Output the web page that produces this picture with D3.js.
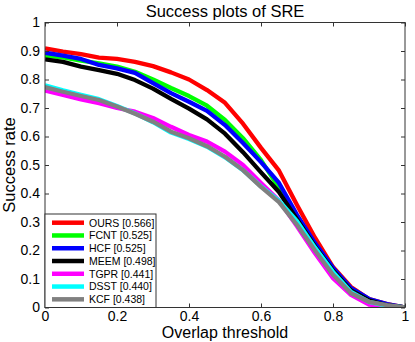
<!DOCTYPE html>
<html><head><meta charset="utf-8">
<script src="https://cdn.jsdelivr.net/npm/d3@7"></script>
<style>body{margin:0;background:#fff}svg{display:block}text{font-family:"Liberation Sans",Arial,sans-serif}</style>
</head><body><svg id="c" width="415" height="342"></svg>
<script>
const thresholds = [0,0.05,0.1,0.15,0.2,0.25,0.3,0.35,0.4,0.45,0.5,0.55,0.6,0.65,0.7,0.75,0.8,0.85,0.9,0.95,1];
const seriesNames = ["OURS [0.566]","FCNT [0.525]","HCF [0.525]","MEEM [0.498]","TGPR [0.441]","DSST [0.440]","KCF [0.438]"];
const seriesColors = ["#ff0000","#00ff00","#0000ff","#000000","#ff00ff","#00ffff","#808080"];
const ours = [0.909,0.898,0.889,0.877,0.872,0.862,0.847,0.825,0.800,0.763,0.718,0.645,0.560,0.480,0.360,0.245,0.142,0.072,0.030,0.012,0];
const fcnt = [0.884,0.878,0.866,0.857,0.845,0.827,0.800,0.770,0.742,0.708,0.658,0.594,0.517,0.420,0.314,0.215,0.130,0.062,0.025,0.008,0];
const hcf  = [0.894,0.884,0.872,0.851,0.839,0.823,0.787,0.752,0.722,0.690,0.640,0.577,0.510,0.437,0.325,0.226,0.139,0.068,0.030,0.012,0];
const meem = [0.871,0.862,0.845,0.833,0.820,0.798,0.768,0.732,0.698,0.660,0.610,0.545,0.474,0.405,0.310,0.215,0.130,0.060,0.025,0.008,0];
const tgpr = [0.761,0.746,0.730,0.717,0.700,0.687,0.665,0.634,0.605,0.582,0.547,0.500,0.437,0.375,0.285,0.190,0.103,0.044,0.010,0.003,0];
const dsst = [0.780,0.762,0.746,0.731,0.707,0.681,0.650,0.614,0.591,0.564,0.527,0.482,0.425,0.375,0.303,0.210,0.125,0.055,0.020,0.006,0];
const kcf  = [0.773,0.757,0.742,0.728,0.705,0.680,0.652,0.617,0.594,0.566,0.529,0.482,0.423,0.370,0.290,0.200,0.115,0.050,0.020,0.008,0];
const xTicks = [0,0.2,0.4,0.6,0.8,1];
const yTicks = [0,0.1,0.2,0.3,0.4,0.5,0.6,0.7,0.8,0.9,1];
const title = "Success plots of SRE", xLabel = "Overlap threshold", yLabel = "Success rate";

const allSeries = [ours,fcnt,hcf,meem,tgpr,dsst,kcf];
const svg = d3.select("#c");
const L=45, R=405, T=22.5, B=307.5;
const x = d3.scaleLinear().domain([0,1]).range([L,R]);
const y = d3.scaleLinear().domain([0,1]).range([B,T]);
const fmt = d => (d===0||d===1) ? String(d) : d.toFixed(1);

// curves
const line = d3.line().x((d,i)=>x(thresholds[i])).y(d=>y(d));
svg.append("clipPath").attr("id","pc").append("rect").attr("x",L).attr("y",T).attr("width",R-L).attr("height",B-T);
const g = svg.append("g").attr("clip-path","url(#pc)");
allSeries.forEach((s,k)=>{
  g.append("path").attr("d",line(s)).attr("fill","none").attr("stroke",seriesColors[k])
   .attr("stroke-width",4.3).attr("stroke-linejoin","round");
});

// axes (ticks inside, box)
const axCol="#333";
svg.append("rect").attr("x",L).attr("y",T).attr("width",R-L).attr("height",B-T).attr("fill","none").attr("stroke",axCol).attr("stroke-width",1);
const xb = svg.append("g").attr("transform",`translate(0,${B})`).call(d3.axisBottom(x).tickValues(xTicks).tickSize(-4).tickPadding(4).tickFormat(fmt));
const xt = svg.append("g").attr("transform",`translate(0,${T})`).call(d3.axisTop(x).tickValues(xTicks).tickSize(-4).tickFormat(""));
const yl = svg.append("g").attr("transform",`translate(${L},0)`).call(d3.axisLeft(y).tickValues(yTicks).tickSize(-4).tickPadding(5).tickFormat(fmt));
const yr = svg.append("g").attr("transform",`translate(${R},0)`).call(d3.axisRight(y).tickValues(yTicks).tickSize(-4).tickFormat(""));
[xb,xt,yl,yr].forEach(a=>{a.select(".domain").remove();a.selectAll("line").attr("stroke",axCol);a.selectAll("text").attr("font-size",14).attr("fill","#000").attr("font-family","Liberation Sans, Arial, sans-serif");});

// labels
svg.append("text").attr("x",225).attr("y",17).attr("text-anchor","middle").attr("font-size",16.5).text(title);
svg.append("text").attr("x",225).attr("y",337.5).attr("text-anchor","middle").attr("font-size",16).text(xLabel);
svg.append("text").attr("transform",`translate(15,${(T+B)/2}) rotate(-90)`).attr("text-anchor","middle").attr("font-size",16.5).text(yLabel);

// legend
const lg = svg.append("g");
lg.append("rect").attr("x",L).attr("y",214).attr("width",111).attr("height",B-214).attr("fill","#fff").attr("stroke",axCol).attr("stroke-width",1);
seriesNames.forEach((n,k)=>{
  const yy = 222.7 + k*12.77;
  lg.append("line").attr("x1",52).attr("x2",84).attr("y1",yy).attr("y2",yy).attr("stroke",seriesColors[k]).attr("stroke-width",4.5);
  lg.append("text").attr("x",89).attr("y",yy+3.8).attr("font-size",10.5).text(n);
});
</script></body></html>
